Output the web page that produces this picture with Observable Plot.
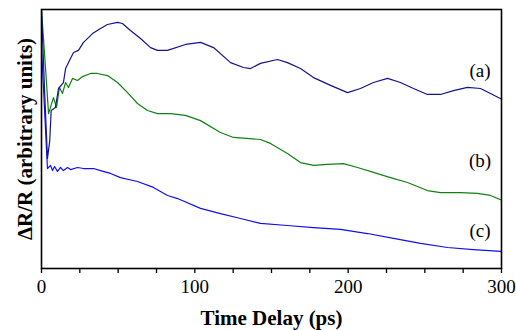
<!DOCTYPE html>
<html>
<head>
<meta charset="utf-8">
<script src="https://cdn.jsdelivr.net/npm/d3@7"></script>
<script src="https://cdn.jsdelivr.net/npm/@observablehq/plot@0.6"></script>
<style>
  html, body { margin: 0; padding: 0; background: #fff; }
</style>
</head>
<body>
<div id="chart"></div>
<script>
// Time delay (ps) and ΔR/R (arbitrary units) for each trace
const timeA = [0, 2, 3.9, 5.4, 6.3, 9.1, 11.1, 14.3, 15.7, 18.9, 20.9, 24.1, 27.4, 33.3, 38.5, 43.0, 49.6, 52.8, 58.0, 64.6, 71.1, 75.7, 82.2, 93.9, 103.7, 112.2, 123.3, 131.7, 136.3, 142.8, 153.9, 160.4, 168.9, 177.4, 188.5, 199.6, 208.0, 216.5, 225.7, 234.1, 242.6, 251.7, 260.2, 268.7, 277.8, 286.3, 292.8, 300];
const valueA = [100, 68.7, 42.5, 49.4, 61.0, 62.2, 69.5, 71.8, 77.2, 81.1, 83.4, 84.2, 87.3, 90.7, 92.7, 94.2, 95.0, 94.6, 91.9, 88.8, 85.3, 84.2, 84.2, 86.5, 87.3, 85.3, 79.5, 77.6, 77.2, 79.2, 80.7, 79.5, 77.2, 73.7, 70.7, 67.9, 69.5, 71.8, 73.4, 71.8, 69.5, 67.2, 67.2, 68.7, 69.9, 69.5, 67.6, 65.4];

const timeB = [0, 2.6, 4.6, 7.8, 9.8, 11.7, 13.7, 15.7, 17.6, 20.2, 23.5, 26.7, 32.0, 36.5, 43.0, 49.6, 56.1, 62.6, 69.1, 75.7, 84.1, 93.9, 103.7, 116.7, 125.2, 142.8, 149.3, 160.4, 168.9, 177.4, 186.5, 196.9, 206.1, 216.5, 227.6, 238.7, 251.7, 260.2, 273.3, 284.3, 292.8, 300];
const valueB = [100, 77.6, 59.8, 66.0, 62.2, 69.9, 67.6, 71.8, 69.9, 73.4, 72.6, 74.1, 75.3, 75.3, 74.5, 71.8, 67.9, 63.7, 61.0, 59.8, 59.8, 59.1, 57.1, 52.5, 50.6, 49.8, 48.3, 44.4, 40.9, 39.8, 40.2, 40.5, 39.0, 37.1, 35.1, 33.2, 30.1, 29.3, 29.3, 29.0, 28.2, 26.4];

const timeC = [0, 3.9, 5.9, 7.2, 8.5, 10.4, 12.4, 14.3, 17.0, 18.9, 23.5, 27.4, 33.9, 38.5, 45.0, 51.5, 62.6, 73.0, 82.2, 88.7, 103.7, 116.7, 129.8, 142.8, 160.4, 177.4, 195.0, 212.6, 229.6, 247.2, 264.8, 281.7, 300];
const valueC = [85, 38.6, 39.8, 37.8, 39.4, 37.5, 39.0, 37.8, 39.0, 38.2, 39.0, 38.6, 38.6, 37.8, 36.7, 35.1, 33.6, 31.3, 28.2, 27.0, 23.2, 21.2, 19.3, 17.4, 16.6, 15.8, 15.1, 13.5, 11.6, 9.7, 8.1, 7.3, 6.6];

const seriesLabels = ["(a)", "(b)", "(c)"];
const labelTime = [286, 286, 286];
const labelValue = [76.4, 41.7, 14.7];

const xTicks = [0, 25, 50, 75, 100, 125, 150, 175, 200, 225, 250, 275, 300];
const xTickLabels = ["0", "", "", "", "100", "", "", "", "200", "", "", "", "300"];

const xTitle = "Time Delay (ps)";
const yTitle = "ΔR/R (arbitrary units)";

const toRows = (ts, vs) => ts.map((t, i) => ({t, v: vs[i]}));
const rowsA = toRows(timeA, valueA);
const rowsB = toRows(timeB, valueB);
const rowsC = toRows(timeC, valueC);
const labelRows = seriesLabels.map((s, i) => ({s, t: labelTime[i], v: labelValue[i]}));

const font = "'Liberation Serif', 'Times New Roman', serif";

const chart = Plot.plot({
  width: 516,
  height: 330,
  marginLeft: 41,
  marginRight: 15,
  marginTop: 9,
  marginBottom: 62,
  style: {fontFamily: font, background: "#fff", color: "#000"},
  x: {domain: [0, 300]},
  y: {domain: [0, 100], axis: null},
  marks: [
    Plot.axisX({
      ticks: xTicks,
      tickFormat: (d) => xTickLabels[xTicks.indexOf(d)],
      tickSize: 5,
      tickPadding: 6,
      fontSize: 19,
      label: null,
      stroke: "#000",
      strokeWidth: 1.3,
      strokeOpacity: 1
    }),
    Plot.line(rowsC, {x: "t", y: "v", stroke: "#1010f0", strokeWidth: 1.2, clip: true}),
    Plot.line(rowsB, {x: "t", y: "v", stroke: "#108010", strokeWidth: 1.2, clip: true}),
    Plot.line(rowsA, {x: "t", y: "v", stroke: "#14148c", strokeWidth: 1.2, clip: true}),
    Plot.frame({stroke: "#000", strokeWidth: 1.6}),
    Plot.text(labelRows, {x: "t", y: "v", text: "s", fontSize: 19, fill: "#000", textAnchor: "middle"}),
    Plot.text([xTitle], {frameAnchor: "bottom", dy: 56, fontSize: 21, fontWeight: "bold", fill: "#000"}),
    Plot.text([yTitle], {frameAnchor: "left", dx: -16, rotate: -90, textAnchor: "middle", lineAnchor: "middle", fontSize: 21, fontWeight: "bold", fill: "#000"})
  ]
});
document.getElementById("chart").appendChild(chart);
</script>
</body>
</html>
